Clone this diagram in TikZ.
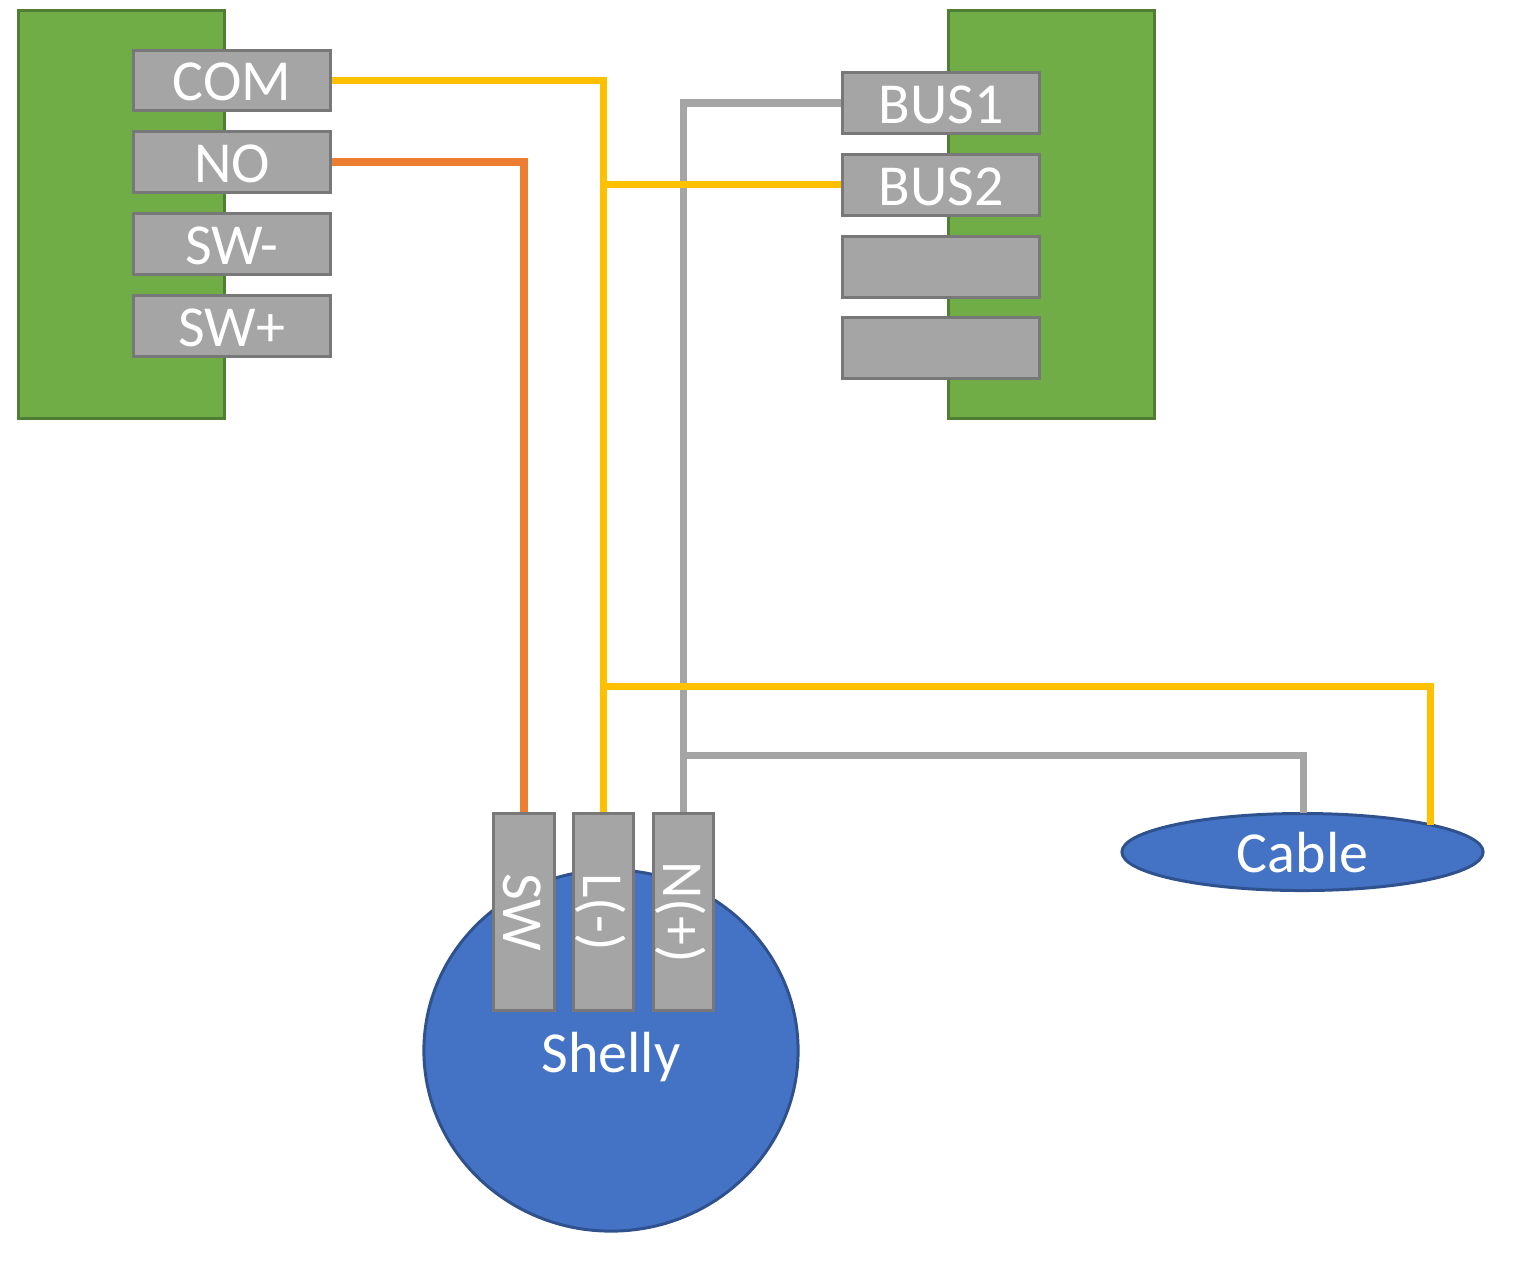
\documentclass[tikz,border=0pt]{standalone}
\usepackage{fontspec}
\setmainfont{Carlito}
\usetikzlibrary{shapes.geometric}
\definecolor{boardgreen}{HTML}{70AD47}
\definecolor{boardedge}{HTML}{507E32}
\definecolor{pingray}{HTML}{A5A5A5}
\definecolor{pinedge}{HTML}{787878}
\definecolor{shellyblue}{HTML}{4472C4}
\definecolor{shellyedge}{HTML}{2F528F}
\definecolor{wireyellow}{HTML}{FFC000}
\definecolor{wireorange}{HTML}{ED7D31}
\begin{document}
\begin{tikzpicture}[x=0.01cm, y=-0.01cm]

\tikzset{
  wordstyle/.style = {text=white, font=\fontsize{16.5}{16.5}\selectfont, text height=11.4pt, text depth=0pt},
  board/.style = {rectangle, draw=boardedge, fill=boardgreen, line width=0.85pt, minimum width=2.06cm, minimum height=4.08cm, inner sep=0},
  term/.style = {rectangle, draw=pinedge, fill=pingray, line width=0.85pt, minimum width=1.97cm, minimum height=0.6cm, inner sep=0, wordstyle},
  pin/.style = {term, rotate=-90},
  blob/.style = {ellipse, draw=shellyedge, fill=shellyblue, line width=0.85pt, inner sep=0, wordstyle},
  yellowwire/.style = {draw=wireyellow, line width=2pt},
  graywire/.style = {draw=pingray, line width=2pt},
  orangewire/.style = {draw=wireorange, line width=2pt}
}

\useasboundingbox (0,0) rectangle (1519,1260);

\node[board] (left) at (121.5,214.5) {};
\node[board] (right) at (1051.5,214.5) {};

\node[term] (com) at (232,80.5) {COM};
\node[term] (no) at (232,162) {NO};
\node[term] (swm) at (232,244) {SW-};
\node[term] (swp) at (232,326) {SW+};

\node[term] (bus1) at (941,103) {BUS1};
\node[term] (bus2) at (941,185) {BUS2};
\node[term] (empty1) at (941,267) {};
\node[term] (empty2) at (941,348) {};

\node[blob, minimum width=3.74cm, minimum height=3.61cm] (shelly) at (611,1050.5) {};
\node[wordstyle] (shellytext) at (611,1052) {Shelly};
\node[blob, minimum width=3.61cm, minimum height=0.77cm] (cable) at (1302.5,852) {Cable};

\node[pin] (sw) at (524,912) {SW};
\node[pin] (l) at (603.5,912) {L(-)};
\node[pin] (n) at (683.5,912) {N(+)};

\coordinate (c2) at (603.5,184.5);
\coordinate (c3) at (603.5,686.5);
\coordinate (c5) at (1430.5,825);
\coordinate (g2) at (683.5,755.5);
\coordinate (g3) at (1303.5,813);

\draw[orangewire] (no.east) -| (sw.west);
\draw[graywire] (bus1.west) -| (n.west);
\draw[graywire] (g2) -| (g3);
\draw[yellowwire] (com.east) -| (l.west);
\draw[yellowwire] (c2) -- (c2 -| bus2.west);
\draw[yellowwire] (c3) -| (c5);

\end{tikzpicture}
\end{document}
